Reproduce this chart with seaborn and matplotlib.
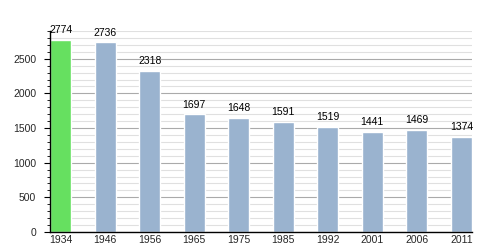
import matplotlib
matplotlib.use("Agg")
import matplotlib.pyplot as plt
import seaborn as sns
import pandas as pd
from matplotlib.ticker import MultipleLocator

years = ["1934", "1946", "1956", "1965", "1975", "1985", "1992", "2001", "2006", "2011"]
population = [2774, 2736, 2318, 1697, 1648, 1591, 1519, 1441, 1469, 1374]
bar_colors = ["#66e060"] + ["#9ab3cf"] * 9

sns.set_theme(style="white")
plt.rcParams['font.family'] = ['Liberation Sans', 'DejaVu Sans']

df = pd.DataFrame({"year": years, "pop": population})
fig = plt.figure(figsize=(5, 2.5), dpi=100)
ax = fig.add_axes([0.1, 0.072, 0.844, 0.804])

sns.barplot(data=df, x="year", y="pop", hue="year", palette=bar_colors,
            width=0.48, legend=False, ax=ax, saturation=1, zorder=3)

ax.set_ylim(0, 2900)
ax.set_xlim(-0.24, 9.24)
ax.yaxis.set_major_locator(MultipleLocator(500))
ax.yaxis.set_minor_locator(MultipleLocator(100))
ax.grid(axis="y", which="major", color="#aaaaaa", linewidth=0.8, zorder=0)
ax.grid(axis="y", which="minor", color="#e0e0e0", linewidth=0.8, zorder=0)
ax.set_axisbelow(True)
for s in ["top", "right"]:
    ax.spines[s].set_visible(False)
for s in ["left", "bottom"]:
    ax.spines[s].set_color("black")
    ax.spines[s].set_linewidth(1.0)
    ax.spines[s].set_zorder(5)
ax.tick_params(axis="y", which="major", left=True, length=4, width=0.8, labelsize=7.5, color="black", pad=6)
ax.tick_params(axis="y", which="minor", left=True, length=2, width=0.6, color="black")
ax.tick_params(axis="x", bottom=False, length=0, labelsize=7.5, pad=2)
ax.set_xlabel("")
ax.set_ylabel("")

for i, v in enumerate(population):
    ax.annotate(str(v), xy=(i, v), xytext=(0, 3.5), textcoords="offset points",
                ha="center", va="bottom", fontsize=7.5, color="black", zorder=6)

fig.savefig("out.png", dpi=100)
